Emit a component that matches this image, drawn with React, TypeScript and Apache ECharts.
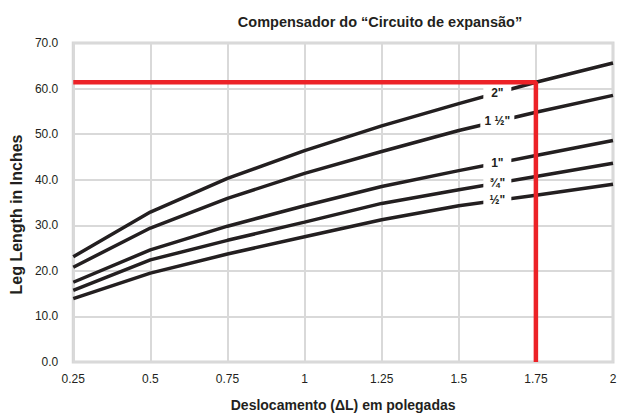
import React, { useEffect, useRef } from "react";
import * as echarts from "echarts";

const xValues = [0.25, 0.5, 0.75, 1, 1.25, 1.5, 1.75, 2];
const pipe2 = [23.1, 32.9, 40.3, 46.4, 51.8, 56.7, 61.4, 65.6];
const pipe1half = [20.8, 29.4, 35.9, 41.4, 46.2, 50.8, 54.8, 58.5];
const pipe1 = [17.5, 24.6, 29.8, 34.3, 38.5, 42.0, 45.3, 48.6];
const pipe3q = [15.7, 22.4, 26.7, 30.7, 34.8, 37.8, 40.7, 43.6];
const pipe1q = [13.9, 19.5, 23.7, 27.5, 31.2, 34.3, 36.6, 39.0];
const seriesNames = ['2"', '1 ½"', '1"', '¾"', '½"'];
const seriesValues = [pipe2, pipe1half, pipe1, pipe3q, pipe1q];
const labelX = 1.625;
const markerX = 1.75;
const markerY = 61.4;
const yTicks = [0, 70, 10];

const FONT = "'Liberation Sans Narrow', 'Liberation Sans', Arial, sans-serif";
const BOLD = "'Liberation Sans', Arial, sans-serif";

function interp(xs: number[], ys: number[], x: number) {
  for (let i = 0; i < xs.length - 1; i++) {
    if (x >= xs[i] && x <= xs[i + 1]) {
      const t = (x - xs[i]) / (xs[i + 1] - xs[i]);
      return ys[i] + t * (ys[i + 1] - ys[i]);
    }
  }
  return ys[ys.length - 1];
}

export default function App() {
  const ref = useRef<HTMLDivElement>(null);
  useEffect(() => {
    if (!ref.current) return;
    const chart = echarts.init(ref.current, undefined, { renderer: "svg" });
    const lineSeries = seriesValues.map((vals, i) => ({
      name: seriesNames[i],
      type: "line",
      data: xValues.map((x, j) => [x, vals[j]]),
      symbol: "none",
      lineStyle: { color: "#231f20", width: 3.5 },
      z: 2,
      markPoint: {
        symbol: "rect",
        symbolSize: [seriesNames[i].length > 2 ? 34 : 28, 16],
        itemStyle: { color: "#ffffff" },
        silent: true,
        label: {
          show: true,
          position: "inside",
          color: "#231f20",
          fontFamily: FONT,
          fontWeight: "bold",
          fontSize: 12,
          formatter: () => seriesNames[i],
        },
        data: [{ coord: [labelX, interp(xValues, vals, labelX)] }],
      },
    }));
    const redSeries = {
      type: "line",
      data: [
        [xValues[0], markerY],
        [markerX, markerY],
        [markerX, yTicks[0]],
      ],
      symbol: "none",
      lineStyle: { color: "#ec2227", width: 4.5 },
      z: 5,
    };
    chart.setOption({
      animation: false,
      title: {
        text: "Compensador do “Circuito de expansão”",
        left: 375,
        top: 9,
        textAlign: "center",
        textStyle: {
          fontFamily: BOLD,
          fontWeight: "bold",
          fontSize: 14.5,
          color: "#231f20",
        },
      },
      grid: {
        left: 67,
        right: 8,
        top: 43,
        bottom: 52,
        show: true,
        borderColor: "#d6d6d6",
        borderWidth: 3,
        containLabel: false,
      },
      xAxis: {
        type: "value",
        min: xValues[0],
        max: xValues[xValues.length - 1],
        interval: 0.25,
        name: "Deslocamento (ΔL) em polegadas",
        nameLocation: "middle",
        nameGap: 36,
        nameTextStyle: {
          fontFamily: BOLD,
          fontWeight: "bold",
          fontSize: 14,
          color: "#231f20",
        },
        axisLine: { show: false },
        axisTick: { show: false },
        axisLabel: {
          margin: 11,
          fontFamily: FONT,
          fontSize: 12,
          color: "#231f20",
          formatter: (v: number) => String(v),
        },
        splitLine: { show: true, lineStyle: { color: "#d9d9d9", width: 2 } },
      },
      yAxis: {
        type: "value",
        min: yTicks[0],
        max: yTicks[1],
        interval: yTicks[2],
        name: "Leg Length in Inches",
        nameLocation: "middle",
        nameGap: 44,
        nameTextStyle: {
          fontFamily: BOLD,
          fontWeight: "bold",
          fontSize: 16,
          color: "#231f20",
          padding: [0, 24, 0, 0],
        },
        axisLine: { show: false },
        axisTick: { show: false },
        axisLabel: {
          margin: 15,
          fontFamily: FONT,
          fontSize: 12,
          color: "#231f20",
          formatter: (v: number) => v.toFixed(1),
        },
        splitLine: { show: true, lineStyle: { color: "#d9d9d9", width: 2 } },
      },
      series: [...lineSeries, redSeries],
    });
    return () => chart.dispose();
  }, []);
  return <div ref={ref} style={{ width: 621, height: 417, position: "absolute", left: 0, top: 0 }} />;
}
